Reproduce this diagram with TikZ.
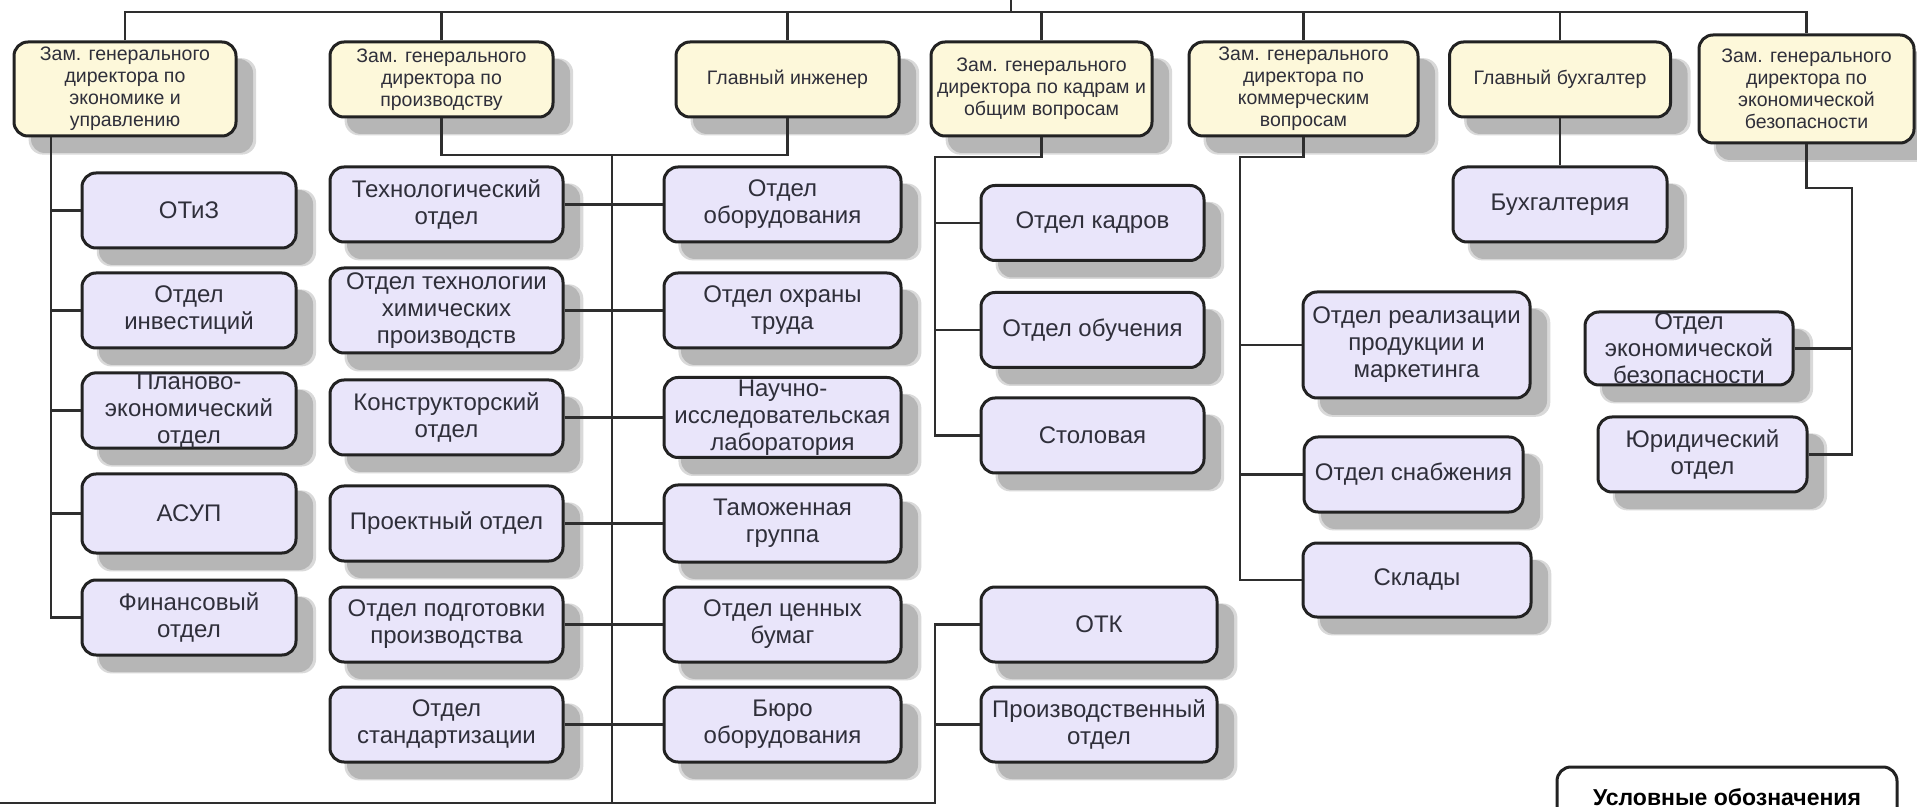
\documentclass[tikz,border=0pt]{standalone}
\usepackage{fontspec}
\setmainfont{Liberation Sans}
\usetikzlibrary{shadows}

\definecolor{headfill}{HTML}{FDF8DA}
\definecolor{deptfill}{HTML}{E9E5FA}
\definecolor{edgecol}{HTML}{222222}
\definecolor{wirecol}{HTML}{2E2E2E}
\definecolor{inkcol}{HTML}{2F2F3A}
\definecolor{shadecol}{HTML}{B6B6B6}
\definecolor{halocol}{HTML}{D9D9D9}

\tikzset{
  card/.style={draw=edgecol, line width=1.5pt, rounded corners=7pt, inner sep=0pt,
    align=center, text=inkcol,
    drop shadow={shadow xshift=8.5pt, shadow yshift=-8.5pt, shadow scale=1.025, fill=halocol, opacity=1},
    drop shadow={shadow xshift=8.5pt, shadow yshift=-8.5pt, fill=shadecol, opacity=1}},
  head/.style={card, fill=headfill, font=\fontsize{9.75pt}{11pt}\selectfont},
  dept/.style={card, fill=deptfill, font=\fontsize{12pt}{13.5pt}\selectfont},
  wh/.style 2 args={minimum width=#1*0.5pt, minimum height=#2*0.5pt},
  wire/.style={draw=wirecol, line width=1.4pt},
}

\begin{document}
\begin{tikzpicture}[x=0.5pt, y=-0.5pt]
\clip (0,0) rectangle (1917,807);
\fill[white] (0,0) rectangle (1917,807);

% deputies and chief officers
\node[head, wh={222}{94}]  (h1) at (125,89)    {Зам. генерального\\директора по\\экономике и\\управлению};
\node[head, wh={223}{75}]  (h2) at (441.5,79.5) {Зам. генерального\\директора по\\производству};
\node[head, wh={223}{75}]  (h3) at (787.5,79.5) {Главный инженер};
\node[head, wh={221}{94}]  (h4) at (1041.5,89)  {Зам. генерального\\директора по кадрам и\\общим вопросам};
\node[head, wh={229}{94}]  (h5) at (1303.5,89)  {Зам. генерального\\директора по\\коммерческим\\вопросам};
\node[head, wh={221}{75}]  (h6) at (1560,79.5)  {Главный бухгалтер};
\node[head, wh={215}{108}] (h7) at (1806.5,89)  {Зам. генерального\\директора по\\экономической\\безопасности};

% economics and management
\node[dept, wh={214}{75}] (otiz)   at (189,210.5) {ОТиЗ};
\node[dept, wh={214}{75}] (invest) at (189,310.5) {Отдел\\инвестиций};
\node[dept, wh={214}{75}] (plan)   at (189,410.5) {Планово-\\экономический\\отдел};
\node[dept, wh={214}{79}] (asup)   at (189,513.5) {АСУП};
\node[dept, wh={214}{75}] (fin)    at (189,617.5) {Финансовый\\отдел};

% production
\node[dept, wh={233}{75}] (tech)   at (446.5,204.5) {Технологический\\отдел};
\node[dept, wh={233}{85}] (chem)   at (446.5,310.5) {Отдел технологии\\химических\\производств};
\node[dept, wh={233}{75}] (konstr) at (446.5,417.5) {Конструкторский\\отдел};
\node[dept, wh={233}{75}] (proj)   at (446.5,523.5) {Проектный отдел};
\node[dept, wh={233}{75}] (prep)   at (446.5,624.5) {Отдел подготовки\\производства};
\node[dept, wh={233}{75}] (std)    at (446.5,724.5) {Отдел\\стандартизации};

% chief engineer
\node[dept, wh={237}{75}] (equip)   at (782.5,204.5) {Отдел\\оборудования};
\node[dept, wh={237}{75}] (safety)  at (782.5,310.5) {Отдел охраны\\труда};
\node[dept, wh={237}{80}] (lab)     at (782.5,417.5) {Научно-\\исследовательская\\лаборатория};
\node[dept, wh={237}{77}] (customs) at (782.5,523.5) {Таможенная\\группа};
\node[dept, wh={237}{75}] (secur)   at (782.5,624.5) {Отдел ценных\\бумаг};
\node[dept, wh={237}{75}] (bureau)  at (782.5,724.5) {Бюро\\оборудования};

% personnel
\node[dept, wh={223}{75}] (hr)      at (1092.5,223)   {Отдел кадров};
\node[dept, wh={223}{75}] (train)   at (1092.5,330)   {Отдел обучения};
\node[dept, wh={223}{75}] (canteen) at (1092.5,435.5) {Столовая};
\node[dept, wh={236}{75}] (otk)     at (1099,624.5)   {ОТК};
\node[dept, wh={236}{75}] (prod)    at (1099,724.5)   {Производственный\\отдел};

% commerce
\node[dept, wh={227}{106}] (sales)  at (1416.5,345)   {Отдел реализации\\продукции и\\маркетинга};
\node[dept, wh={219}{75}]  (supply) at (1413.5,474.5) {Отдел снабжения};
\node[dept, wh={228}{74}]  (store)  at (1417,580)     {Склады};

% accounting and security
\node[dept, wh={214}{75}] (buh)   at (1560,204.5)  {Бухгалтерия};
\node[dept, wh={208}{73}] (ecsec) at (1689,348.5)  {Отдел\\экономической\\безопасности};
\node[dept, wh={209}{75}] (legal) at (1702.5,454.5) {Юридический\\отдел};

% legend
\node[draw=edgecol, line width=1.5pt, rounded corners=7pt, fill=white, wh={340}{60},
      font=\fontsize{11.5pt}{13pt}\selectfont\bfseries, text=black] (legend) at (1727,797) {Условные обозначения};

% bus lines
\coordinate (bus)  at (0,12);
\coordinate (gd)   at (1011,0);
\coordinate (base) at (0,803);
\coordinate (t1)   at (51,0);
\coordinate (mid)  at (612,155);
\coordinate (kd)   at (935,157);
\coordinate (qc)   at (935,803);
\coordinate (cm)   at (1240,157);
\coordinate (sc)   at (1852,188);

\draw[wire] (gd) -- (gd |- bus);
\draw[wire] (h1.north) |- (bus -| h7.north) -- (h7.north);
\foreach \n in {h2,h3,h4,h5,h6} \draw[wire] (\n.north) -- (\n.north |- bus);

% economics trunk
\draw[wire] (h1.south -| t1) |- (fin.west);
\foreach \n in {otiz,invest,plan,asup} \draw[wire] (\n.west -| t1) -- (\n.west);

% production / engineering trunk
\draw[wire] (h2.south) |- (mid) -| (h3.south);
\draw[wire] (mid) -- (mid |- base);
\draw[wire] (tech.east)   -- (equip.west);
\draw[wire] (chem.east)   -- (safety.west);
\draw[wire] (konstr.east) -- (lab.west);
\draw[wire] (proj.east)   -- (customs.west);
\draw[wire] (prep.east)   -- (secur.west);
\draw[wire] (std.east)    -- (bureau.west);

% personnel trunk
\draw[wire] (h4.south) |- (kd) |- (canteen.west);
\draw[wire] (hr.west -| kd) -- (hr.west);
\draw[wire] (train.west -| kd) -- (train.west);

% quality control line
\draw[wire] (otk.west) -| (qc) -- (base);
\draw[wire] (prod.west -| qc) -- (prod.west);

% commerce trunk
\draw[wire] (h5.south) |- (cm) |- (store.west);
\draw[wire] (sales.west -| cm) -- (sales.west);
\draw[wire] (supply.west -| cm) -- (supply.west);

% accounting
\draw[wire] (h6.south) -- (buh.north);

% security trunk
\draw[wire] (h7.south) |- (sc) |- (legal.east);
\draw[wire] (ecsec.east) -- (ecsec.east -| sc);
\end{tikzpicture}
\end{document}
